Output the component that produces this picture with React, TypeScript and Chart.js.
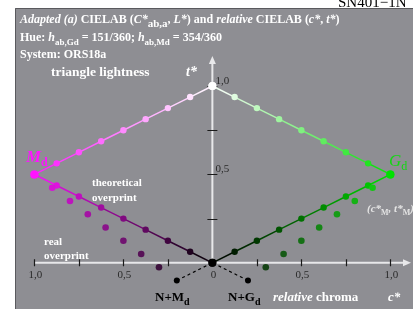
import React, { useEffect, useRef } from "react";
import { Chart, registerables } from "chart.js";
Chart.register(...registerables);

// ---- data (relative chroma c*, triangle lightness t*) ----
const magUpperC = [-1, -0.875, -0.75, -0.625, -0.5, -0.375, -0.25, -0.125, 0];
const magUpperT = [0.5, 0.5625, 0.625, 0.6875, 0.75, 0.8125, 0.875, 0.9375, 1];
const magLowerC = [-1, -0.875, -0.75, -0.625, -0.5, -0.375, -0.25, -0.125, 0];
const magLowerT = [0.5, 0.4375, 0.375, 0.3125, 0.25, 0.1875, 0.125, 0.0625, 0];
const magRealC = [-0.9, -0.8, -0.7, -0.6, -0.5, -0.4, -0.3];
const magRealT = [0.425, 0.35, 0.275, 0.2, 0.125, 0.05, -0.025];

const grnUpperC = [1, 0.875, 0.75, 0.625, 0.5, 0.375, 0.25, 0.125, 0];
const grnUpperT = [0.5, 0.5625, 0.625, 0.6875, 0.75, 0.8125, 0.875, 0.9375, 1];
const grnLowerC = [1, 0.875, 0.75, 0.625, 0.5, 0.375, 0.25, 0.125, 0];
const grnLowerT = [0.5, 0.4375, 0.375, 0.3125, 0.25, 0.1875, 0.125, 0.0625, 0];
const grnRealC = [0.9, 0.8, 0.7, 0.6, 0.5, 0.4, 0.3];
const grnRealT = [0.425, 0.35, 0.275, 0.2, 0.125, 0.05, -0.025];

const nMagC = [-0.2, 0];
const nMagT = [-0.1, 0];
const nGrnC = [0.2, 0];
const nGrnT = [-0.1, 0];

const xTickValues = [-1, -0.75, -0.5, -0.25, 0, 0.25, 0.5, 0.75, 1];
const xTickLabels = ["1,0", "", "0,5", "", "0", "", "0,5", "", "1,0"];
const yTickValues = [0.25, 0.5, 0.75, 1];
const yTickLabels = ["", "0,5", "", "1,0"];

// ---- styling ----
const W = 413;
const H = 309;
const FONT = '"Liberation Serif", "Times New Roman", serif';
const BOX_BG = "#8e8e93";
const MD = [255, 20, 255];
const GD = [0, 225, 0];
const WHITE = [255, 255, 255];
const BLACK = [0, 0, 0];

type RGB = number[];
const mix = (a: RGB, b: RGB, f: number) =>
  a.map((v, i) => Math.round(v + (b[i] - v) * f));
const css = (c: RGB) => `rgb(${c[0]},${c[1]},${c[2]})`;
const pts = (cs: number[], ts: number[]) => cs.map((c, i) => ({ x: c, y: ts[i] }));

type Part = { t: string; s?: string; size?: number; sub?: boolean; color?: string };

function fontOf(s: string | undefined, size: number) {
  const st = s || "b";
  const italic = st.includes("i") ? "italic " : "";
  const bold = st.includes("b") ? "bold " : "";
  return `${italic}${bold}${size}px ${FONT}`;
}

function drawRich(
  ctx: CanvasRenderingContext2D,
  x: number,
  y: number,
  parts: Part[],
  color: string,
  baseSize: number,
  align: "left" | "center" | "right" = "left"
) {
  ctx.save();
  ctx.textBaseline = "alphabetic";
  ctx.textAlign = "left";
  let total = 0;
  const sizes = parts.map((p) => p.size || (p.sub ? Math.round(baseSize * 0.75) : baseSize));
  parts.forEach((p, i) => {
    ctx.font = fontOf(p.s, sizes[i]);
    total += ctx.measureText(p.t).width;
  });
  let cx = align === "left" ? x : align === "center" ? x - total / 2 : x - total;
  parts.forEach((p, i) => {
    ctx.font = fontOf(p.s, sizes[i]);
    ctx.fillStyle = p.color || color;
    const dy = p.sub ? baseSize * 0.3 : 0;
    ctx.fillText(p.t, cx, y + dy);
    cx += ctx.measureText(p.t).width;
  });
  ctx.restore();
}

const decorPlugin = {
  id: "decor",
  beforeDatasetsDraw(chart: any) {
    const ctx: CanvasRenderingContext2D = chart.ctx;
    const xs = chart.scales.x;
    const ys = chart.scales.y;
    ctx.save();
    ctx.fillStyle = "#ffffff";
    ctx.fillRect(0, 0, W, H);
    ctx.fillStyle = BOX_BG;
    ctx.fillRect(15, 8, W - 15, H - 8);
    ctx.strokeStyle = "#5a5a5e";
    ctx.lineWidth = 1;
    ctx.beginPath();
    ctx.moveTo(15.5, H);
    ctx.lineTo(15.5, 8.5);
    ctx.lineTo(W, 8.5);
    ctx.stroke();

    // corner code
    ctx.fillStyle = "#000";
    ctx.font = `15px ${FONT}`;
    ctx.textAlign = "left";
    ctx.fillText("SN401\u22121N", 338, 7);

    const x0 = xs.getPixelForValue(0);
    const y0 = ys.getPixelForValue(0);
    const xL = xs.getPixelForValue(-1);
    const yTop = ys.getPixelForValue(1.17);
    const xRight = W - 2;

    // axes lines
    ctx.strokeStyle = "#e8e8ea";
    ctx.fillStyle = "#e8e8ea";
    ctx.lineWidth = 2;
    ctx.beginPath();
    ctx.moveTo(xL, y0);
    ctx.lineTo(xRight - 6, y0);
    ctx.moveTo(x0, y0);
    ctx.lineTo(x0, yTop + 6);
    ctx.stroke();
    // arrow heads
    ctx.beginPath();
    ctx.moveTo(xRight, y0);
    ctx.lineTo(xRight - 8, y0 - 3.5);
    ctx.lineTo(xRight - 8, y0 + 3.5);
    ctx.closePath();
    ctx.fill();
    ctx.beginPath();
    ctx.moveTo(x0, yTop);
    ctx.lineTo(x0 - 3.5, yTop + 8);
    ctx.lineTo(x0 + 3.5, yTop + 8);
    ctx.closePath();
    ctx.fill();

    // ticks
    ctx.strokeStyle = "#1a1a1a";
    ctx.lineWidth = 1.2;
    ctx.beginPath();
    xTickValues.forEach((v) => {
      if (v === 0) return;
      const px = Math.round(xs.getPixelForValue(v)) + 0.5;
      ctx.moveTo(px, y0 - 3.5);
      ctx.lineTo(px, y0 + 3.5);
    });
    yTickValues.forEach((v) => {
      const py = Math.round(ys.getPixelForValue(v)) + 0.5;
      ctx.moveTo(x0 - 5, py);
      ctx.lineTo(x0 + 5, py);
    });
    ctx.stroke();

    // tick labels
    ctx.fillStyle = "#2a2a2a";
    ctx.font = `11px ${FONT}`;
    ctx.textAlign = "center";
    xTickValues.forEach((v, i) => {
      if (!xTickLabels[i]) return;
      ctx.fillText(xTickLabels[i], xs.getPixelForValue(v) + 1, y0 + 15);
    });
    ctx.textAlign = "left";
    yTickValues.forEach((v, i) => {
      if (!yTickLabels[i]) return;
      ctx.fillText(yTickLabels[i], x0 + 3, ys.getPixelForValue(v) - 2);
    });
    ctx.restore();
  },
  afterDatasetsDraw(chart: any) {
    const ctx: CanvasRenderingContext2D = chart.ctx;
    const wht = "#ffffff";
    drawRich(ctx, 20, 23, [
      { t: "Adapted (a) ", s: "bi" },
      { t: "CIELAB (" },
      { t: "C*", s: "bi" },
      { t: "ab,a", sub: true, size: 11 },
      { t: ", " },
      { t: "L*", s: "bi" },
      { t: ") and " },
      { t: "relative", s: "bi" },
      { t: " CIELAB (" },
      { t: "c*", s: "bi" },
      { t: ", " },
      { t: "t*", s: "bi" },
      { t: ")" },
    ], wht, 12);
    drawRich(ctx, 20, 41, [
      { t: "Hue: " },
      { t: "h", s: "bi" },
      { t: "ab,Gd", sub: true, size: 9 },
      { t: " = 151/360; " },
      { t: "h", s: "bi" },
      { t: "ab,Md", sub: true, size: 9 },
      { t: " = 354/360" },
    ], wht, 12);
    drawRich(ctx, 20, 58, [{ t: "System: ORS18a" }], wht, 12);
    drawRich(ctx, 51, 76, [{ t: "triangle lightness" }], wht, 13.5);
    drawRich(ctx, 186, 76, [{ t: "t*", s: "bi" }], wht, 14);

    drawRich(ctx, 26, 162, [
      { t: "M", s: "bi", size: 17 },
      { t: "d", s: "b", sub: true, size: 12 },
    ], css(MD), 12);
    drawRich(ctx, 389, 166, [
      { t: "G", s: "i", size: 17 },
      { t: "d", s: "n", sub: true, size: 12 },
    ], "rgb(20,215,20)", 12);

    drawRich(ctx, 92, 186, [{ t: "theoretical" }], wht, 11);
    drawRich(ctx, 92, 201, [{ t: "overprint" }], wht, 11);
    drawRich(ctx, 44, 245, [{ t: "real" }], wht, 11);
    drawRich(ctx, 44, 259, [{ t: "overprint" }], wht, 11);

    drawRich(ctx, 367, 212, [
      { t: "(c*", s: "bi" },
      { t: "M", s: "b", sub: true, size: 8 },
      { t: ", t*", s: "bi" },
      { t: "M", s: "b", sub: true, size: 8 },
      { t: ")", s: "bi" },
    ], "#e4e4e4", 11);

    drawRich(ctx, 155, 301, [
      { t: "N+M" },
      { t: "d", sub: true, size: 10 },
    ], "#000", 13);
    drawRich(ctx, 228, 301, [
      { t: "N+G" },
      { t: "d", sub: true, size: 10 },
    ], "#000", 13);
    drawRich(ctx, 273, 301, [
      { t: "relative", s: "bi" },
      { t: " chroma" },
    ], wht, 13);
    drawRich(ctx, 388, 301, [{ t: "c*", s: "bi" }], wht, 13);
  },
};

function lineDataset(cs: number[], ts: number[], from: RGB, to: RGB) {
  const n = cs.length - 1;
  const cols = cs.map((_, i) => css(mix(from, to, i / n)));
  return {
    data: pts(cs, ts),
    showLine: true,
    borderWidth: 1.5,
    borderColor: cols[0],
    segment: {
      borderColor: (c: any) => css(mix(from, to, (c.p0DataIndex + 0.5) / n)),
    },
    pointRadius: cs.map((_, i) => (i === 0 || i === n ? 4 : 3.2)),
    pointBackgroundColor: cols,
    pointBorderWidth: 0,
    pointHoverRadius: 0,
  };
}

function realDataset(cs: number[], ts: number[], from: RGB, to: RGB) {
  const n = cs.length - 1;
  return {
    data: pts(cs, ts),
    showLine: false,
    pointRadius: 3.3,
    pointBackgroundColor: cs.map((_, i) => css(mix(from, to, i / n))),
    pointBorderWidth: 0,
  };
}

function dashedDataset(cs: number[], ts: number[]) {
  return {
    data: pts(cs, ts),
    showLine: true,
    borderColor: "#000",
    borderWidth: 1.2,
    borderDash: [3, 3],
    pointRadius: [3, 0],
    pointBackgroundColor: "#000",
    pointBorderWidth: 0,
  };
}

export default function App() {
  const ref = useRef<HTMLCanvasElement | null>(null);
  useEffect(() => {
    if (!ref.current) return;
    const xMin = -212.5 / 181.5;
    const xMax = (W - 212.5) / 181.5;
    const yMax = 265.7 / 181.5;
    const yMin = (265.7 - H) / 181.5;
    const chart = new Chart(ref.current, {
      type: "scatter",
      data: {
        datasets: [
          dashedDataset(nMagC, nMagT),
          dashedDataset(nGrnC, nGrnT),
          realDataset(magRealC, magRealT, [215, 20, 215], [62, 18, 62]),
          realDataset(grnRealC, grnRealT, [20, 200, 20], [22, 68, 22]),
          lineDataset(magUpperC, magUpperT, MD, WHITE),
          lineDataset(grnUpperC, grnUpperT, GD, WHITE),
          lineDataset(magLowerC, magLowerT, MD, BLACK),
          lineDataset(grnLowerC, grnLowerT, GD, BLACK),
        ] as any,
      },
      options: {
        animation: false,
        responsive: false,
        events: [],
        layout: { padding: 0 },
        plugins: { legend: { display: false }, tooltip: { enabled: false } },
        scales: {
          x: { type: "linear", min: xMin, max: xMax, display: false },
          y: { type: "linear", min: yMin, max: yMax, display: false },
        },
      },
      plugins: [decorPlugin],
    });
    return () => chart.destroy();
  }, []);
  return (
    <canvas
      ref={ref}
      width={W}
      height={H}
      style={{ position: "absolute", left: 0, top: 0, width: W, height: H }}
    />
  );
}
